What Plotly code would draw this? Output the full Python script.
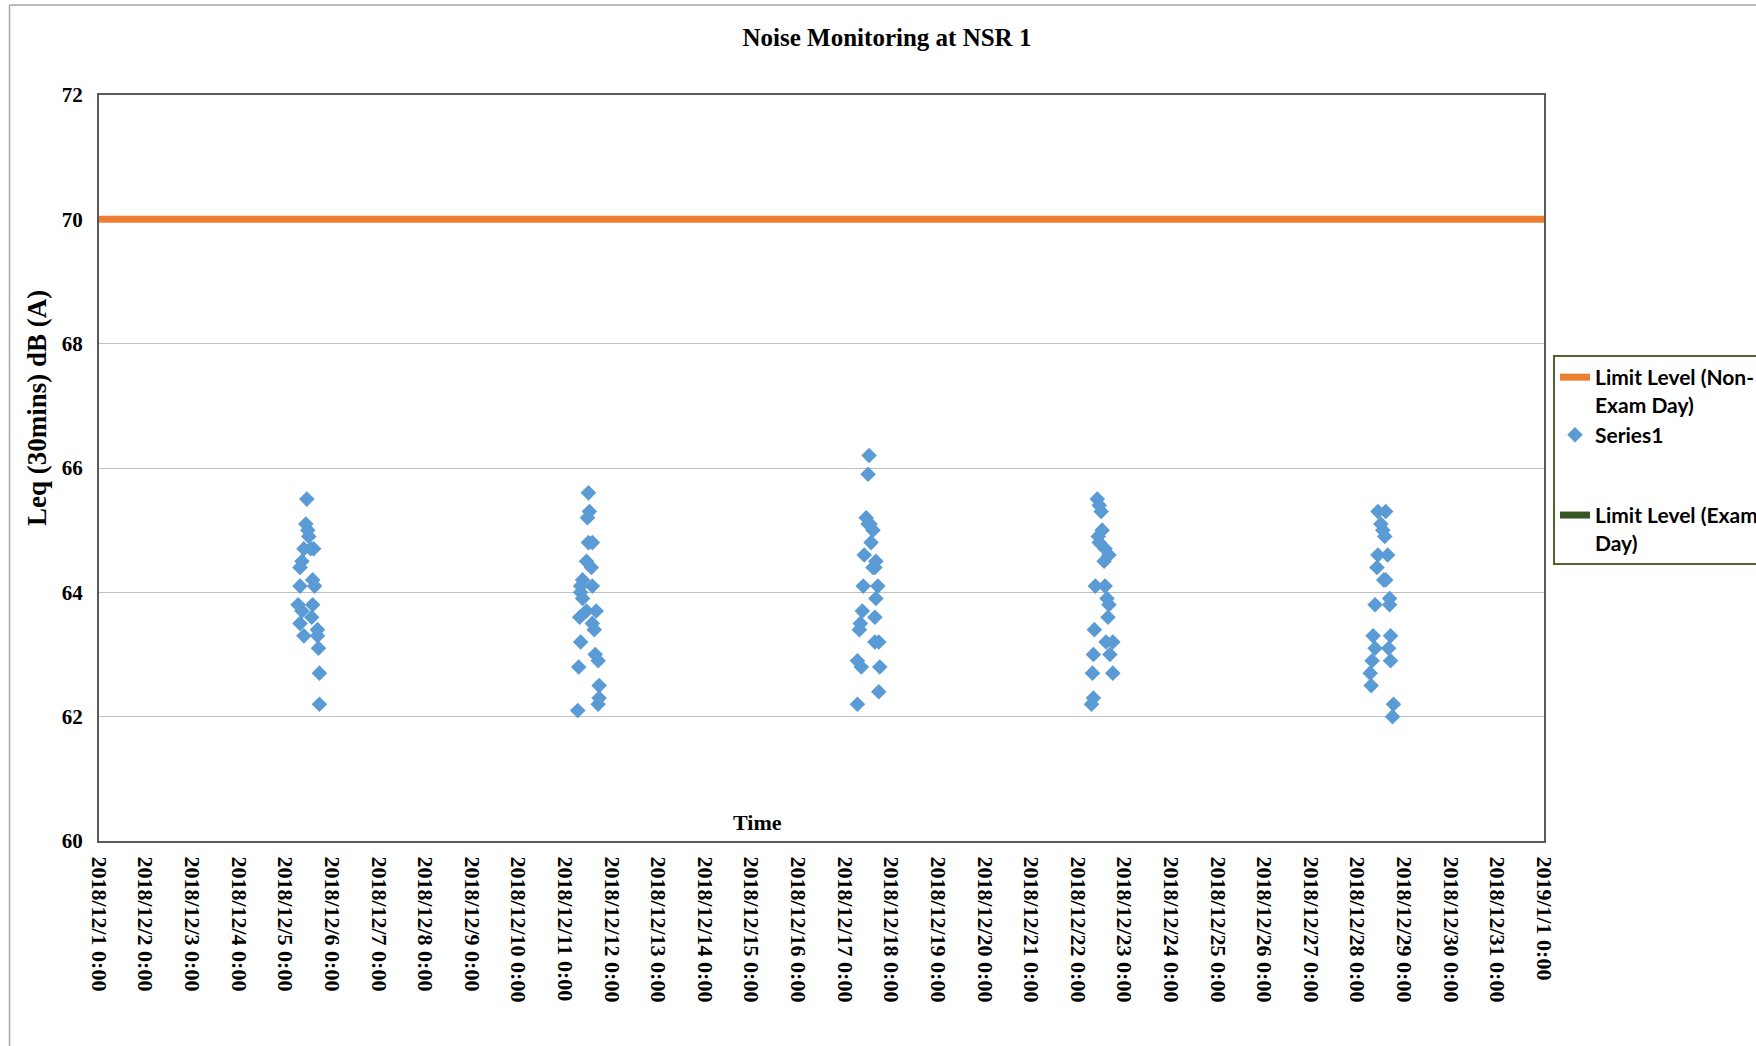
import pandas as pd
import plotly.graph_objects as go

# ---- data ----
day1 = "2018-12-05"
hours1 = [11.0, 10.5, 11.5, 12.0, 9.5, 14.5, 13.0, 8.5, 7.5, 7.5, 14.0, 15.0, 6.5, 14.0, 8.5, 13.5, 7.5, 16.5, 9.5, 16.5, 17.0, 17.5, 17.5]
leq1 = [65.5, 65.1, 65.0, 64.9, 64.7, 64.7, 64.7, 64.5, 64.4, 64.1, 64.2, 64.1, 63.8, 63.8, 63.7, 63.6, 63.5, 63.4, 63.3, 63.3, 63.1, 62.7, 62.2]

day2 = "2018-12-11"
hours2 = [12.0, 12.5, 11.5, 12.0, 14.0, 11.0, 13.5, 9.0, 14.0, 8.0, 8.0, 9.0, 7.5, 11.0, 16.0, 14.0, 15.0, 8.0, 15.5, 17.0, 7.0, 17.5, 17.5, 17.0, 6.5]
leq2 = [65.6, 65.3, 65.2, 64.8, 64.8, 64.5, 64.4, 64.2, 64.1, 64.1, 64.0, 63.9, 63.6, 63.7, 63.7, 63.5, 63.4, 63.2, 63.0, 62.9, 62.8, 62.5, 62.3, 62.2, 62.1]

day3 = "2018-12-17"
hours3 = [12.5, 12.0, 11.0, 12.0, 13.0, 14.5, 13.5, 10.0, 16.0, 15.5, 14.5, 9.5, 17.0, 16.0, 9.0, 15.5, 8.0, 7.5, 15.5, 17.5, 6.5, 8.5, 18.0, 17.5, 6.5]
leq3 = [66.2, 65.9, 65.2, 65.1, 65.1, 65.0, 64.8, 64.6, 64.5, 64.4, 64.4, 64.1, 64.1, 63.9, 63.7, 63.6, 63.5, 63.4, 63.2, 63.2, 62.9, 62.8, 62.8, 62.4, 62.2]

day4 = "2018-12-22"
hours4 = [10.0, 11.0, 12.0, 12.5, 10.5, 11.0, 14.0, 16.0, 13.5, 9.0, 14.0, 15.0, 16.0, 15.5, 8.5, 14.5, 18.0, 8.0, 16.5, 7.5, 18.0, 8.0, 7.0]
leq4 = [65.5, 65.4, 65.3, 65.0, 64.9, 64.8, 64.7, 64.6, 64.5, 64.1, 64.1, 63.9, 63.8, 63.6, 63.4, 63.2, 63.2, 63.0, 63.0, 62.7, 62.7, 62.3, 62.2]

day5 = "2018-12-28"
hours5 = [10.5, 14.5, 12.0, 13.0, 14.0, 10.5, 15.5, 10.0, 13.5, 14.5, 16.5, 9.0, 16.5, 8.0, 17.0, 9.0, 16.0, 7.5, 17.0, 6.5, 7.0, 18.5, 18.0]
leq5 = [65.3, 65.3, 65.1, 65.0, 64.9, 64.6, 64.6, 64.4, 64.2, 64.2, 63.9, 63.8, 63.8, 63.3, 63.3, 63.1, 63.1, 62.9, 62.9, 62.7, 62.5, 62.2, 62.0]

limit_dates = ["2018-12-01 00:00", "2019-01-01 00:00"]
limit_non_exam = [70, 70]
limit_exam = [None, None]

x_range = ["2018-12-01 00:00", "2019-01-01 00:00"]
y_range = [60, 72]

# ---- build series ----
days = [day1, day2, day3, day4, day5]
hours = [hours1, hours2, hours3, hours4, hours5]
leqs = [leq1, leq2, leq3, leq4, leq5]
series_x, series_y = [], []
for d, hs, vs in zip(days, hours, leqs):
    for h, v in zip(hs, vs):
        t = pd.Timestamp(d) + pd.to_timedelta(h, unit="h")
        series_x.append(t.strftime("%Y-%m-%d %H:%M"))
        series_y.append(v)

# pixel helpers for layout placement
L, R, T, B = 99, 1544, 95, 841
W, H = 1756, 1046
def px(x):
    return (x - L) / (R - L)
def py(y):
    return (B - y) / (B - T)

serif = "Liberation Serif, Times New Roman, serif"

fig = go.Figure()
fig.add_trace(go.Scatter(
    x=limit_dates, y=limit_non_exam, mode="lines",
    name="Limit Level (Non-<br>Exam Day)",
    line=dict(color="#ED7D31", width=7),
    legendgroup="g1",
))
fig.add_trace(go.Scatter(
    x=series_x, y=series_y, mode="markers", name="Series1",
    marker=dict(symbol="diamond", size=12, color="#5B9BD5"),
    legendgroup="g1",
))
fig.add_trace(go.Scatter(
    x=limit_dates, y=limit_exam, mode="lines",
    name="Limit Level (Exam<br>Day)",
    line=dict(color="#375623", width=7),
    legendgroup="g2",
))

fig.update_layout(
    width=W, height=H,
    margin=dict(l=L, r=W - R, t=T, b=H - B, autoexpand=False),
    paper_bgcolor="white", plot_bgcolor="white",
    title=dict(text="Noise Monitoring at NSR 1", x=px(887), xref="paper", xanchor="center",
               y=1 - 37 / H, yref="container", yanchor="middle",
               font=dict(family=serif, size=25, color="black", weight="bold")),
    showlegend=True,
    legend=dict(x=px(1553), y=py(355), xanchor="left", yanchor="top",
                bordercolor="#4F6228", borderwidth=2, bgcolor="white",
                font=dict(family="Lato, sans-serif", size=21, color="black", weight="bold"),
                valign="top", tracegroupgap=50, itemwidth=30),
    xaxis=dict(type="date", range=x_range, tick0=x_range[0], dtick=86400000,
               tickformat="%Y/%-m/%-d %-H:%M", tickangle=90,
               tickfont=dict(family=serif, size=22, color="black", weight="bold"),
               showgrid=False, zeroline=False, showline=True, linecolor="#595959",
               linewidth=2, mirror=True, ticks="", ticklabelstandoff=9),
    yaxis=dict(range=y_range, dtick=2, tick0=60,
               tickfont=dict(family=serif, size=21, color="black", weight="bold"),
               showgrid=True, gridcolor="#BFBFBF", gridwidth=1, zeroline=False,
               showline=True, linecolor="#595959", linewidth=2, mirror=True,
               ticks="", ticklabelstandoff=10),
    annotations=[
        dict(text="Leq (30mins) dB (A)", x=px(37), y=py(408), xref="paper", yref="paper",
             textangle=-90, showarrow=False, xanchor="center", yanchor="middle",
             font=dict(family=serif, size=27, color="black", weight="bold")),
        dict(text="Time", x=px(757), y=py(822), xref="paper", yref="paper",
             showarrow=False, xanchor="center", yanchor="middle",
             font=dict(family=serif, size=22, color="black", weight="bold")),
    ],
    shapes=[
        dict(type="line", xref="paper", yref="paper", x0=px(9.5), x1=px(9.5),
             y0=py(1060), y1=py(5), line=dict(color="#A6A6A6", width=1.5)),
        dict(type="line", xref="paper", yref="paper", x0=px(9.5), x1=px(1770),
             y0=py(5), y1=py(5), line=dict(color="#A6A6A6", width=1.5)),
    ],
)

fig.write_html("out.html", config={"displayModeBar": False},
               post_script="document.body.style.margin='0';")
